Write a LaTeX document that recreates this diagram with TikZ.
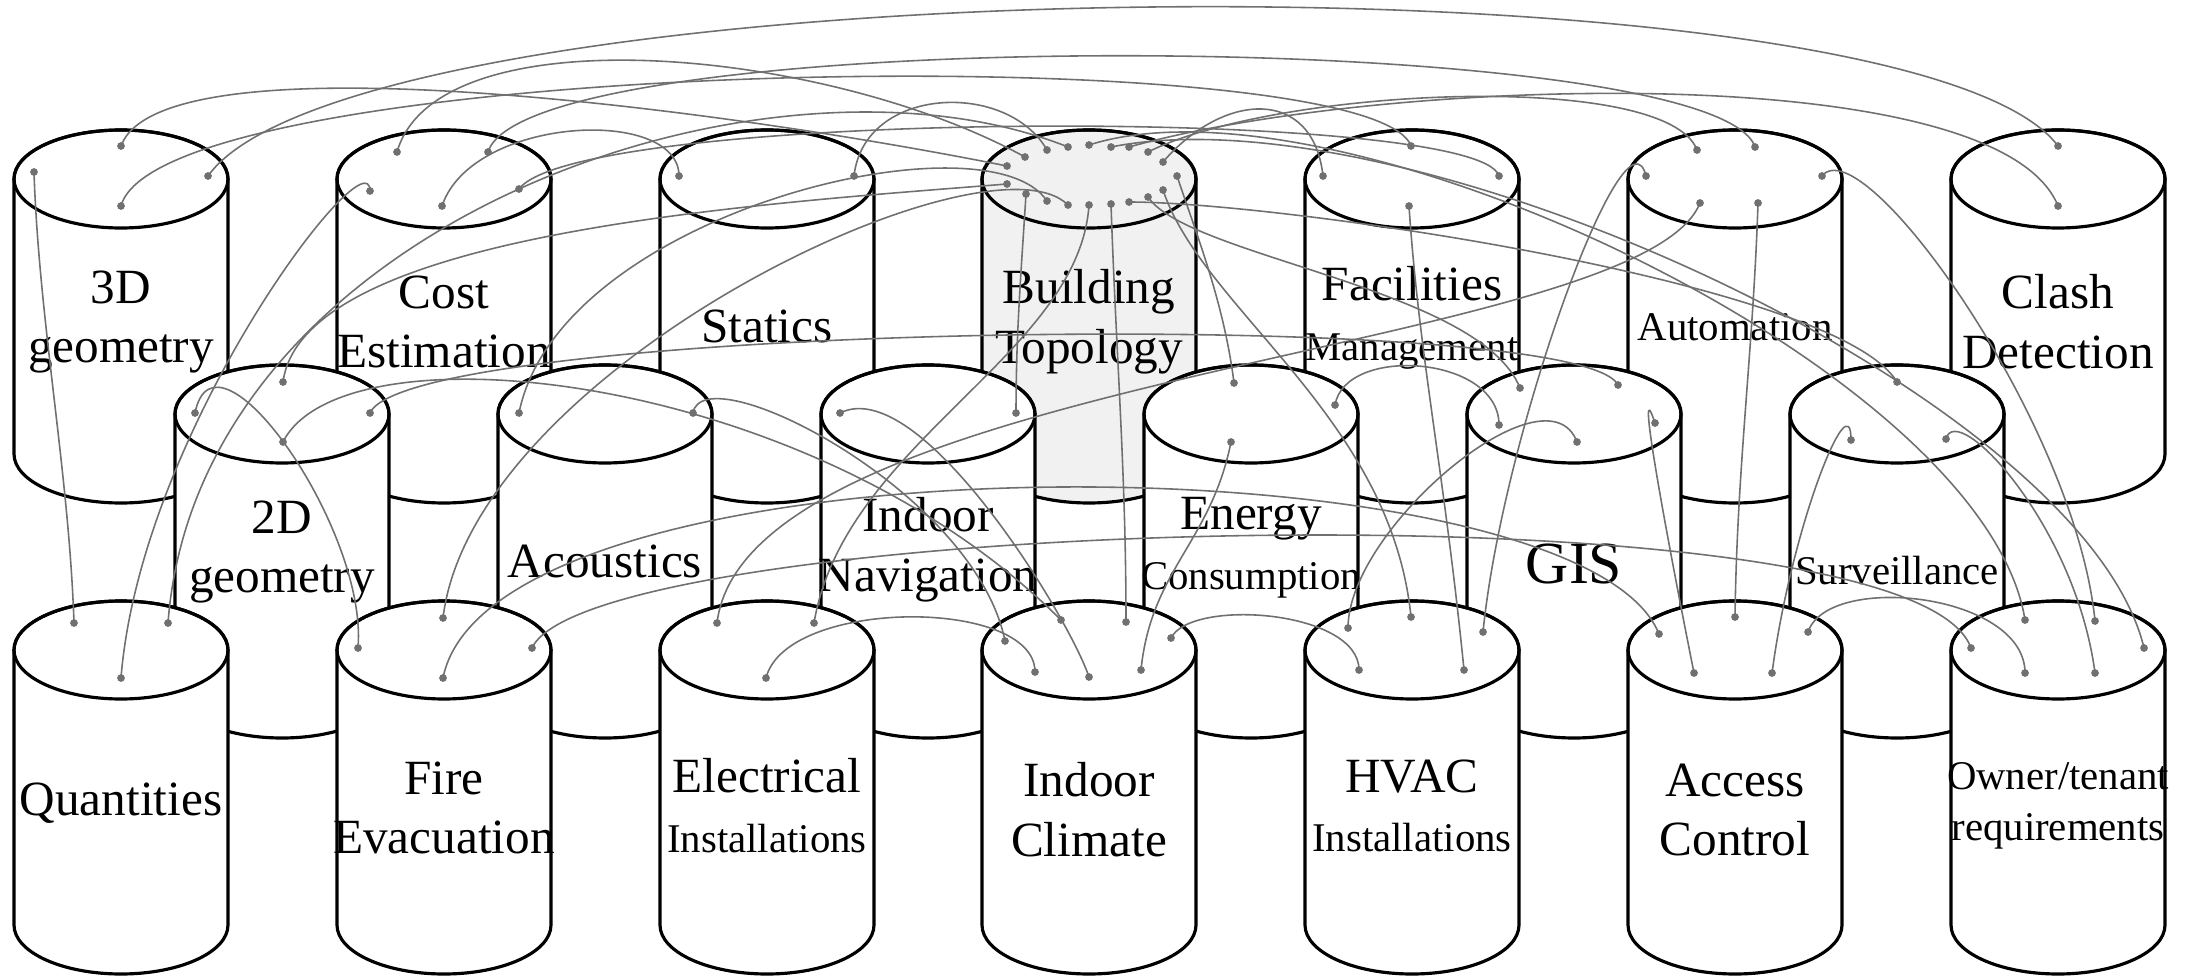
\documentclass[tikz,border=0pt]{standalone}
\usepackage{fontspec}
\setmainfont{Liberation Serif}

\definecolor{linkgray}{RGB}{112,112,112}
\definecolor{topofill}{RGB}{240,241,240}

\newcommand{\lbig}{\fontsize{14}{17}\selectfont}
\newcommand{\lsmall}{\fontsize{11.6}{14.5}\selectfont}
\newcommand{\lgis}{\fontsize{17}{20}\selectfont}

% one cylinder: [fill]{x of axis}{y of top face}
\newcommand{\drum}[3][white]{%
  \filldraw[drumline, fill=#1] (#2-107,#3) -- (#2-107,#3-275)
    arc[start angle=180, end angle=360, x radius=107, y radius=49]
    -- (#2+107,#3)
    arc[start angle=0, end angle=180, x radius=107, y radius=49] -- cycle;
  \draw[drumline] (#2,#3) ellipse[x radius=107, y radius=49];}

\tikzset{
  drumline/.style={draw=black, line width=0.9pt},
  link/.style={draw=linkgray, line width=0.45pt},
  dot/.style={fill=linkgray},
  lbl/.style={align=center, font=\lbig, inner sep=0pt},
}

\begin{document}
\begin{tikzpicture}[x=0.01cm, y=0.01cm]
\useasboundingbox (0,0) rectangle (2185,978);

% rows of cylinders, back to front
\foreach \cx in {121,444,767,1412,1735,2058} {\drum{\cx}{799}}
\drum[topofill]{1089}{799}
\foreach \cx in {282,605,928,1251,1574,1897} {\drum{\cx}{564}}
\foreach \cx in {121,444,767,1089,1412,1735,2058} {\drum{\cx}{328}}

% labels
\node[lbl] (geo3d) at (121,656) {3D\\geometry};
\node[lbl] (cost) at (444,656) {Cost\\Estimation};
\node[lbl] (statics) at (767,652) {Statics};
\node[lbl] (topo) at (1089,656) {Building\\Topology};
\node[lbl] (facil) at (1412,660) {Facilities\\\lsmall Management};
\node[lbl, font=\lsmall] (autom) at (1735,651) {Automation};
\node[lbl] (clash) at (2058,656) {Clash\\Detection};
\node[lbl] (geo2d) at (282,426) {2D\\geometry};
\node[lbl] (acoust) at (605,417) {Acoustics};
\node[lbl] (indnav) at (928,428) {Indoor\\Navigation};
\node[lbl] (energy) at (1251,430) {Energy\\\lsmall Consumption};
\node[lbl, font=\lgis] (gis) at (1574,414) {GIS};
\node[lbl, font=\lsmall] (surv) at (1897,407) {Surveillance};
\node[lbl] (quant) at (121,175) {Quantities};
\node[lbl] (fire) at (444,170) {Fire\\Evacuation};
\node[lbl] (elec) at (767,172) {Electrical\\\lsmall Installations};
\node[lbl] (indclim) at (1089,168) {Indoor\\Climate};
\node[lbl] (hvac) at (1412,172) {HVAC\\\lsmall Installations};
\node[lbl] (access) at (1735,168) {Access\\Control};
\node[lbl, font=\lsmall] (owner) at (2058,172) {Owner/tenant\\requirements};

% dots on the top faces
\coordinate (tu1) at (1025,821); \coordinate (tu2) at (1047,828);
\coordinate (tu3) at (1068,831); \coordinate (tu4) at (1089,833);
\coordinate (tu5) at (1111,831); \coordinate (tu6) at (1129,831);
\coordinate (tu7) at (1148,826); \coordinate (tu8) at (1163,816);
\coordinate (tl1) at (1007,812); \coordinate (tl2) at (1007,794);
\coordinate (td1) at (1026,784); \coordinate (td2) at (1047,777);
\coordinate (td3) at (1068,773); \coordinate (td4) at (1089,773);
\coordinate (td5) at (1111,774); \coordinate (td6) at (1129,776);
\coordinate (td7) at (1148,781); \coordinate (td8) at (1163,788);
\coordinate (tr) at (1177,802);
\coordinate (a1) at (121,832); \coordinate (a2) at (208,802);
\coordinate (a3) at (121,772); \coordinate (a4) at (34,806);
\coordinate (c1) at (397,826); \coordinate (c2) at (488,826);
\coordinate (c3) at (370,787); \coordinate (c4) at (442,772);
\coordinate (c5) at (519,789);
\coordinate (s1) at (679,802); \coordinate (s2) at (854,802);
\coordinate (f1) at (1411,832); \coordinate (f2) at (1323,802);
\coordinate (f3) at (1499,802); \coordinate (f4) at (1409,772);
\coordinate (u1) at (1697,828); \coordinate (u2) at (1755,831);
\coordinate (u3) at (1646,802); \coordinate (u4) at (1822,802);
\coordinate (u5) at (1700,775); \coordinate (u6) at (1758,775);
\coordinate (k1) at (2058,832); \coordinate (k2) at (2058,772);
\coordinate (d1) at (283,596); \coordinate (d2) at (195,565);
\coordinate (d3) at (370,565); \coordinate (d4) at (283,536);
\coordinate (o1) at (519,565); \coordinate (o2) at (693,565);
\coordinate (n1) at (840,565); \coordinate (n2) at (1016,565);
\coordinate (e1) at (1234,595); \coordinate (e2) at (1335,573);
\coordinate (e3) at (1231,536);
\coordinate (g1) at (1520,590); \coordinate (g2) at (1618,593);
\coordinate (g3) at (1499,553); \coordinate (g4) at (1655,555);
\coordinate (g5) at (1577,536);
\coordinate (v1) at (1897,596); \coordinate (v2) at (1851,538);
\coordinate (v3) at (1946,539);
\coordinate (q1) at (74,355); \coordinate (q2) at (168,355);
\coordinate (q3) at (121,300);
\coordinate (r1) at (443,360); \coordinate (r2) at (358,330);
\coordinate (r3) at (532,330); \coordinate (r4) at (443,300);
\coordinate (l1) at (717,355); \coordinate (l2) at (814,355);
\coordinate (l3) at (766,300);
\coordinate (i1) at (1005,337); \coordinate (i2) at (1061,358);
\coordinate (i3) at (1035,306); \coordinate (i4) at (1089,301);
\coordinate (i5) at (1126,356); \coordinate (i6) at (1171,340);
\coordinate (i7) at (1141,308);
\coordinate (h1) at (1411,361); \coordinate (h2) at (1348,350);
\coordinate (h3) at (1483,346); \coordinate (h4) at (1359,308);
\coordinate (h5) at (1464,308);
\coordinate (x1) at (1735,361); \coordinate (x2) at (1659,344);
\coordinate (x3) at (1808,346); \coordinate (x4) at (1694,305);
\coordinate (x5) at (1772,305);
\coordinate (w1) at (2025,358); \coordinate (w2) at (2095,357);
\coordinate (w3) at (1971,330); \coordinate (w4) at (2144,330);
\coordinate (w5) at (2025,305); \coordinate (w6) at (2095,305);

% links to Building Topology
\draw[link] (a1) .. controls +(40,110) and +(-300,60) .. (tl1);
\draw[link] (c1) .. controls +(40,140) and +(-200,110) .. (tu1);
\draw[link] (s2) .. controls +(10,90) and +(-40,70) .. (tu2);
\draw[link] (f2) .. controls +(-10,90) and +(60,70) .. (tu8);
\draw[link] (u1) .. controls +(-30,80) and +(130,65) .. (tu7);
\draw[link] (k2) .. controls +(-60,150) and +(250,70) .. (tu6);
\draw[link] (d1) .. controls +(20,150) and +(-250,-20) .. (tl2);
\draw[link] (o1) .. controls +(40,200) and +(-60,90) .. (td2);
\draw[link] (n2) .. controls +(0,80) and +(-5,-80) .. (td1);
\draw[link] (e1) .. controls +(-10,80) and +(20,-60) .. (tr);
\draw[link] (g1) .. controls +(-40,100) and +(40,-60) .. (td7);
\draw[link] (v1) .. controls +(-60,100) and +(150,0) .. (td6);
\draw[link] (q2) .. controls +(30,400) and +(-300,120) .. (tu3);
\draw[link] (r1) .. controls +(30,250) and +(-80,80) .. (td3);
\draw[link] (l2) .. controls +(30,180) and +(-10,-150) .. (td4);
\draw[link] (i5) .. controls +(0,150) and +(5,-150) .. (td5);
\draw[link] (h1) .. controls +(-20,200) and +(40,-120) .. (td8);
\draw[link] (w4) .. controls +(-60,250) and +(300,60) .. (tu5);
\draw[link] (w1) .. controls +(-40,250) and +(250,80) .. (tu4);

% other links
\draw[link] (a4) .. controls +(5,-150) and +(-5,150) .. (q1);
\draw[link] (a2) .. controls +(150,210) and +(-150,200) .. (k1);
\draw[link] (a3) .. controls +(40,150) and +(-40,110) .. (f1);
\draw[link] (c3) .. controls +(0,60) and +(20,250) .. (q3);
\draw[link] (c2) .. controls +(40,130) and +(-40,120) .. (u2);
\draw[link] (c4) .. controls +(30,90) and +(0,70) .. (s1);
\draw[link] (c5) .. controls +(60,80) and +(-20,70) .. (f3);
\draw[link] (d4) .. controls +(60,120) and +(-250,250) .. (i2);
\draw[link] (d3) .. controls +(40,90) and +(-40,80) .. (g2);
\draw[link] (r2) .. controls +(10,120) and +(20,100) .. (d2);
\draw[link] (o2) .. controls +(10,60) and +(-30,150) .. (i1);
\draw[link] (r3) .. controls +(60,130) and +(-60,170) .. (w3);
\draw[link] (r4) .. controls +(50,250) and +(-80,200) .. (x2);
\draw[link] (l1) .. controls +(30,250) and +(-60,-150) .. (u5);
\draw[link] (l3) .. controls +(20,80) and +(0,75) .. (i3);
\draw[link] (i4) .. controls +(-20,60) and +(80,40) .. (n1);
\draw[link] (i6) .. controls +(20,40) and +(0,60) .. (h4);
\draw[link] (i7) .. controls +(10,100) and +(-20,-100) .. (e3);
\draw[link] (u6) .. controls +(-5,-150) and +(2,150) .. (x1);
\draw[link] (h3) .. controls +(20,200) and +(-20,80) .. (u3);
\draw[link] (e2) .. controls +(10,60) and +(0,70) .. (g3);
\draw[link] (h5) .. controls +(-20,200) and +(10,-150) .. (f4);
\draw[link] (h2) .. controls +(0,100) and +(-30,80) .. (g5);
\draw[link] (x3) .. controls +(20,60) and +(0,80) .. (w5);
\draw[link] (v2) .. controls +(0,60) and +(20,150) .. (x5);
\draw[link] (v3) .. controls +(10,40) and +(-20,150) .. (w6);
\draw[link] (g4) .. controls +(-20,60) and +(-30,150) .. (x4);
\draw[link] (w2) .. controls +(-20,200) and +(40,50) .. (u4);

% end dots
\foreach \p in {tu1,tu2,tu3,tu4,tu5,tu6,tu7,tu8,tl1,tl2,td1,td2,td3,td4,td5,td6,td7,td8,tr,
  a1,a2,a3,a4,c1,c2,c3,c4,c5,s1,s2,f1,f2,f3,f4,u1,u2,u3,u4,u5,u6,k1,k2,
  d1,d2,d3,d4,o1,o2,n1,n2,e1,e2,e3,g1,g2,g3,g4,g5,v1,v2,v3,
  q1,q2,q3,r1,r2,r3,r4,l1,l2,l3,i1,i2,i3,i4,i5,i6,i7,h1,h2,h3,h4,h5,
  x1,x2,x3,x4,x5,w1,w2,w3,w4,w5,w6}
  \fill[dot] (\p) circle[radius=1.1pt];
\end{tikzpicture}
\end{document}
